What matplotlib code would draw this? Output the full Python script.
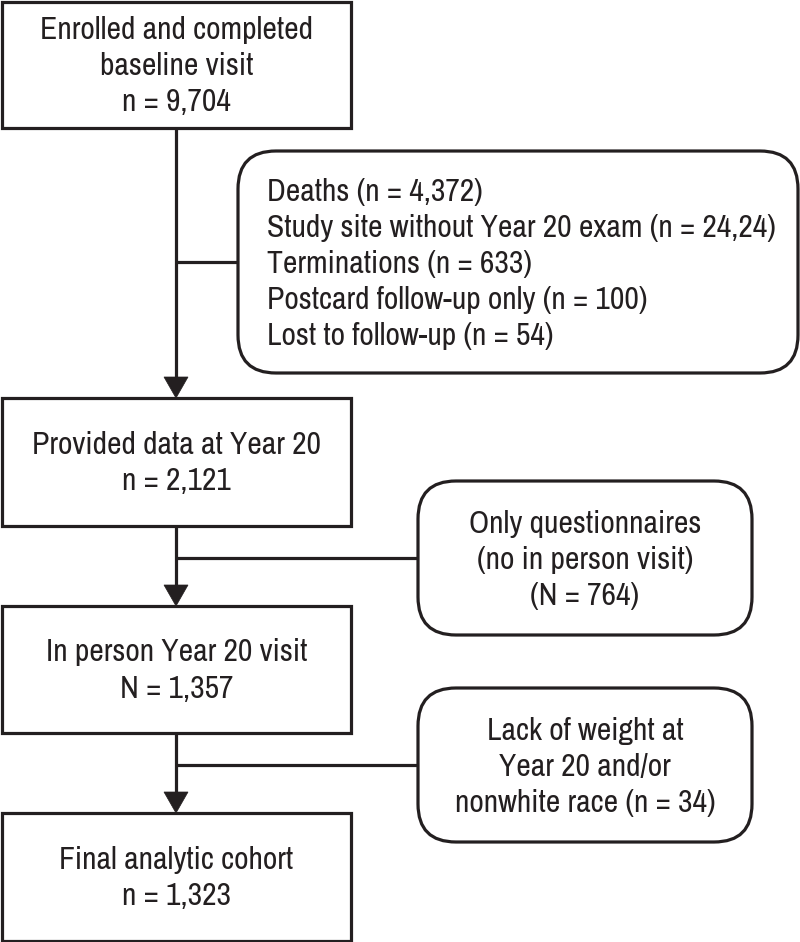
import matplotlib.pyplot as plt
from matplotlib.patches import Rectangle, FancyBboxPatch, Polygon

# flow stages (main column) and exclusions (side boxes)
stage_labels = ["Enrolled and completed\nbaseline visit", "Provided data at Year 20",
                "In person Year 20 visit", "Final analytic cohort"]
stage_counts = ["n = 9,704", "n = 2,121", "N = 1,357", "n = 1,323"]

excl_1 = ["Deaths (n = 4,372)",
          "Study site without Year 20 exam (n = 24,24)",
          "Terminations (n = 633)",
          "Postcard follow-up only (n = 100)",
          "Lost to follow-up (n = 54)"]
excl_2 = "Only questionnaires\n(no in person visit)\n(N = 764)"
excl_3 = "Lack of weight at\nYear 20 and/or\nnonwhite race (n = 34)"

# layout (pixels, y down)
W, H = 800, 942
main_x0, main_x1 = 2, 351
main_y = [(2, 128), (398, 526), (606, 733), (813, 941)]
cx = 176
side = [(238, 151, 798, 373, 262), (418, 481, 752, 635, 558), (418, 688, 752, 842, 765)]

ink = "#231f20"
lw = 2.3
fam = ["Archivo Narrow", "Liberation Sans", "DejaVu Sans"]
fs = 22.8
ls = 1.35

fig = plt.figure(figsize=(W / 100, H / 100), dpi=100)
ax = fig.add_axes([0, 0, 1, 1])
ax.set_xlim(0, W)
ax.set_ylim(H, 0)
ax.axis("off")

for (y0, y1), lab, n in zip(main_y, stage_labels, stage_counts):
    ax.add_patch(Rectangle((main_x0, y0), main_x1 - main_x0, y1 - y0,
                           fill=False, ec=ink, lw=lw))
    ax.text((main_x0 + main_x1) / 2, (y0 + y1) / 2 + 1, lab + "\n" + n, ha="center", va="center",
            fontsize=fs, family=fam, color=ink, linespacing=ls)

# vertical connectors with arrowheads
for i in range(3):
    top = main_y[i][1]
    tip = main_y[i + 1][0]
    ax.plot([cx, cx], [top, tip - 20], color=ink, lw=lw, solid_capstyle="butt")
    ax.add_patch(Polygon([(cx - 12, tip - 21), (cx + 12, tip - 21), (cx, tip)],
                         closed=True, fc=ink, ec=ink, lw=0.5))

# side boxes
for x0, y0, x1, y1, yc in side:
    ax.add_patch(FancyBboxPatch((x0, y0), x1 - x0, y1 - y0,
                                boxstyle="round,pad=0,rounding_size=38",
                                fill=False, ec=ink, lw=lw))
    ax.plot([cx, x0], [yc, yc], color=ink, lw=lw, solid_capstyle="butt")

x0, y0, x1, y1, yc = side[0]
ax.text(267, (y0 + y1) / 2 + 2, "\n".join(excl_1), ha="left", va="center",
        fontsize=fs, family=fam, color=ink, linespacing=ls)
for box, txt in zip(side[1:], [excl_2, excl_3]):
    x0, y0, x1, y1, yc = box
    ax.text((x0 + x1) / 2, (y0 + y1) / 2 + 2, txt, ha="center", va="center",
            fontsize=fs, family=fam, color=ink, linespacing=ls)

fig.savefig("out.png", dpi=100, facecolor="white")
